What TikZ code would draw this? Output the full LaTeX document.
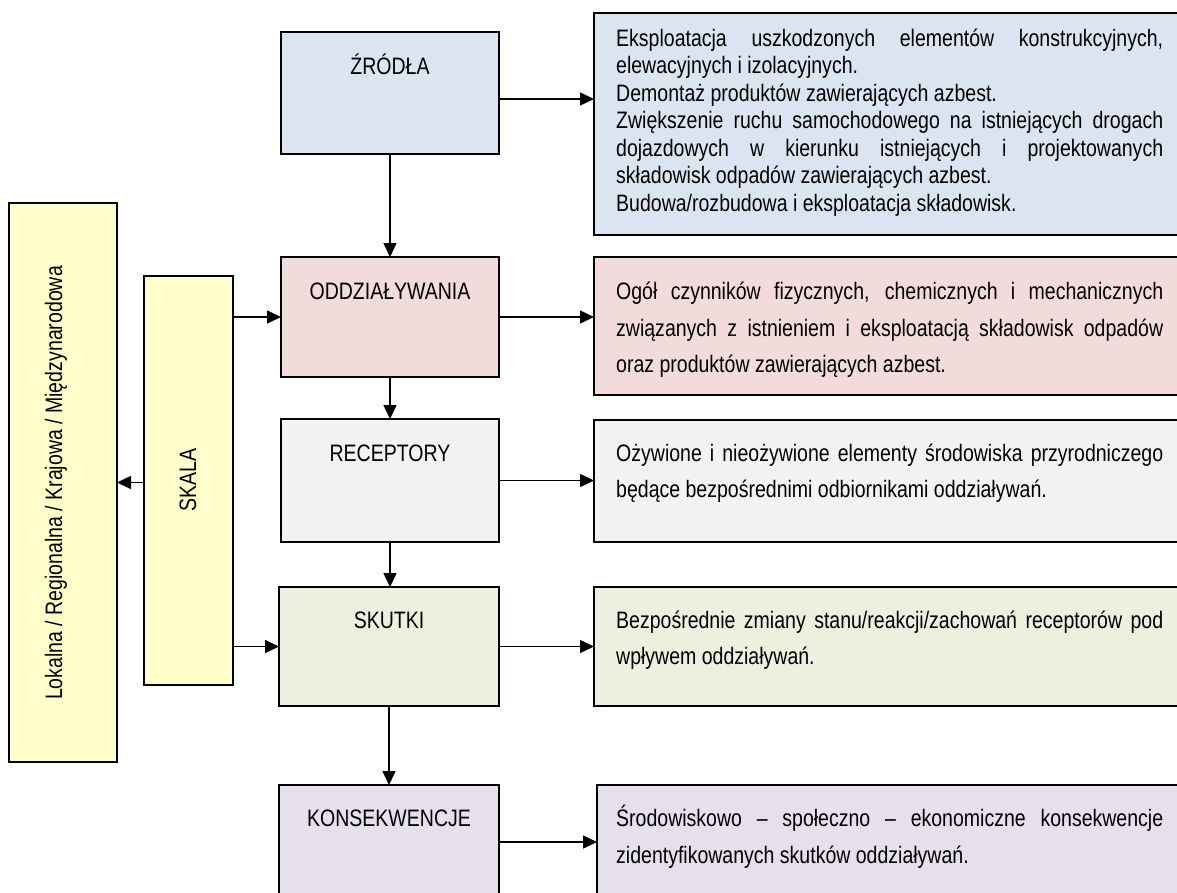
\documentclass[tikz,border=0pt]{standalone}
\usepackage{fontspec}
\setmainfont[FakeStretch=0.82]{Liberation Sans}
\usetikzlibrary{arrows.meta}
\definecolor{cblue}{HTML}{DBE5F1}
\definecolor{cpink}{HTML}{F2DCDB}
\definecolor{cgray}{HTML}{F2F2F2}
\definecolor{cgreen}{HTML}{EBF1DE}
\definecolor{cpurple}{HTML}{E5E0EC}
\definecolor{cyellow}{HTML}{FFFFCC}
\newcommand{\jl}[1]{\makebox[547pt][s]{#1}}
\newcommand{\fst}{\rule{0pt}{26pt}}
\begin{document}
\begin{tikzpicture}[x=1pt,y=-1pt,
  box/.style={draw=black,line width=1.6pt,inner sep=0pt,outer sep=0pt,anchor=north west},
  title/.style={anchor=base,inner sep=0pt,font=\fontsize{23.8pt}{27.5pt}\selectfont},
  bodyA/.style={anchor=north west,inner sep=0pt,align=left,font=\fontsize{23.8pt}{27.5pt}\selectfont},
  bodyB/.style={anchor=north west,inner sep=0pt,align=left,font=\fontsize{23.8pt}{36.5pt}\selectfont},
  vtext/.style={rotate=90,anchor=base,inner sep=0pt,font=\fontsize{23.8pt}{27.5pt}\selectfont},
  arr/.style={line width=1.5pt,-{Triangle[length=14pt,width=13pt]}}]
\useasboundingbox (0,0) rectangle (1177,892);
\clip (0,0) rectangle (1177,892);

% left column boxes
\node[box,fill=cblue,minimum width=218pt,minimum height=122pt] (Z) at (281,32) {};
\node[box,fill=cpink,minimum width=218pt,minimum height=120pt] (O) at (281,257) {};
\node[box,fill=cgray,minimum width=218pt,minimum height=123pt] (R) at (281,419) {};
\node[box,fill=cgreen,minimum width=220pt,minimum height=119pt] (S) at (279,587) {};
\node[box,fill=cpurple,minimum width=220pt,minimum height=114pt] (K) at (279,785) {};

% right column boxes
\node[box,fill=cblue,minimum width=590pt,minimum height=222pt] (Zr) at (594,13) {};
\node[box,fill=cpink,minimum width=590pt,minimum height=138pt] (Or) at (594,257) {};
\node[box,fill=cgray,minimum width=590pt,minimum height=122pt] (Rr) at (594,420) {};
\node[box,fill=cgreen,minimum width=590pt,minimum height=119pt] (Sr) at (594,587) {};
\node[box,fill=cpurple,minimum width=590pt,minimum height=114pt] (Kr) at (597,785) {};

% scale boxes
\node[box,fill=cyellow,minimum width=89pt,minimum height=409pt] (SK) at (144,276) {};
\node[box,fill=cyellow,minimum width=108pt,minimum height=559pt] (L) at (9,203) {};

% titles
\node[title] (Zt) at (390,74) {ŹRÓDŁA};
\node[title] (Ot) at (390,299.5) {ODDZIAŁYWANIA};
\node[title] (Rt) at (390,461) {RECEPTORY};
\node[title] (St) at (389,628) {SKUTKI};
\node[title] (Kt) at (389,826.5) {KONSEKWENCJE};
\node[vtext] (SKt) at (196,480) {SKALA};
\node[vtext] (Lt) at (62,483) {Lokalna / Regionalna / Krajowa / Międzynarodowa};

% body texts
\node[bodyA] (Zb) at (616,20) {\fst\jl{Eksploatacja uszkodzonych elementów konstrukcyjnych,}\\
elewacyjnych i izolacyjnych.\\
Demontaż produktów zawierających azbest.\\
\jl{Zwiększenie ruchu samochodowego na istniejących drogach}\\
\jl{dojazdowych w kierunku istniejących i projektowanych}\\
składowisk odpadów zawierających azbest.\\
Budowa/rozbudowa i eksploatacja składowisk.};
\node[bodyB] (Ob) at (616,273.5) {\fst\jl{Ogół czynników fizycznych, chemicznych i mechanicznych}\\
\jl{związanych z istnieniem i eksploatacją składowisk odpadów}\\
oraz produktów zawierających azbest.};
\node[bodyB] (Rb) at (616,435) {\fst\jl{Ożywione i nieożywione elementy środowiska przyrodniczego}\\
będące bezpośrednimi odbiornikami oddziaływań.};
\node[bodyB] (Sb) at (616,602) {\fst\jl{Bezpośrednie zmiany stanu/reakcji/zachowań receptorów pod}\\
wpływem oddziaływań.};
\node[bodyB] (Kb) at (616,800.5) {\fst\jl{Środowiskowo – społeczno – ekonomiczne konsekwencje}\\
zidentyfikowanych skutków oddziaływań.};

% vertical arrows
\draw[arr] (Z.south) -- (O.north);
\draw[arr] (O.south) -- (R.north);
\draw[arr] (R.south) -- (R.south |- S.north);
\draw[arr] (S.south) -- (K.north);

% horizontal arrows to descriptions
\draw[arr] ([yshift=-6pt]Z.east) -- ([yshift=-6pt]Z.east -| Zr.west);
\draw[arr] (O.east) -- (O.east -| Or.west);
\draw[arr] (R.east) -- (R.east -| Rr.west);
\draw[arr] (S.east) -- (S.east -| Sr.west);
\draw[arr] (K.east) -- (K.east -| Kr.west);

% scale arrows
\draw[arr] (O.west -| SK.east) -- (O.west);
\draw[arr] (S.west -| SK.east) -- (S.west);
\draw[arr] (L.east -| SK.west) -- (L.east);
\end{tikzpicture}
\end{document}
